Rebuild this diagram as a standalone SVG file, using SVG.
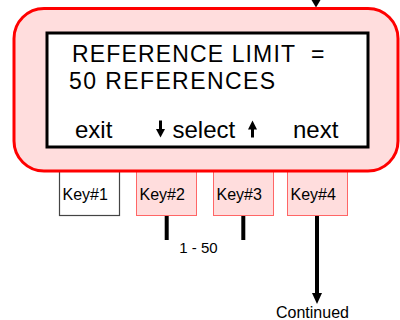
<svg xmlns="http://www.w3.org/2000/svg" width="400" height="320" viewBox="0 0 400 320">
<defs>
<style>
text{font-family:"Liberation Sans",Arial,sans-serif;fill:#000}
.key{fill:#ffdddd;stroke:#ff6666;stroke-width:1}
.lbl{font-size:16px}
.big{font-size:23px}
.soft{font-size:24px}
.line{stroke:#000;stroke-width:4;fill:none}
</style>
</defs>
<g id="connectors">
<line x1="316" y1="0" x2="316" y2="2" stroke="#000" stroke-width="2"/>
<polygon points="311.5,0 320.5,0 316,7.5" fill="#000"/>
<line class="line" x1="166.7" y1="216" x2="166.7" y2="240"/>
<line class="line" x1="243.3" y1="216" x2="243.3" y2="240"/>
<line class="line" x1="317" y1="216" x2="317" y2="294" stroke-width="3.5"/>
<polygon points="312,293 322,293 317,304" fill="#000"/>
</g>
<g id="key1"><rect x="59.5" y="168" width="60" height="47.5" fill="#fff" stroke="#444" stroke-width="1.2"/><text class="lbl" x="62.5" y="199.5">Key#1</text></g>
<g id="key2"><rect class="key" x="136.5" y="168" width="60" height="47.5"/><text class="lbl" x="139.5" y="199.5">Key#2</text></g>
<g id="key3"><rect class="key" x="213.5" y="168" width="60" height="47.5"/><text class="lbl" x="216.5" y="199.5">Key#3</text></g>
<g id="key4"><rect class="key" x="287.5" y="168" width="60" height="47.5"/><text class="lbl" x="290.5" y="199.5">Key#4</text></g>
<g id="device">
<rect x="14" y="8.5" width="384" height="162.5" rx="30" ry="30" fill="#ffdddd" stroke="#ff0000" stroke-width="3"/>
<rect x="47" y="33" width="321" height="114" fill="#fff" stroke="#000" stroke-width="3"/>
<text class="big" x="72" y="61.5" textLength="223" lengthAdjust="spacing">REFERENCE LIMIT</text>
<text class="big" x="311" y="61.5">=</text>
<text class="big" x="69" y="88.5" textLength="206" lengthAdjust="spacing">50 REFERENCES</text>
<text class="soft" x="75" y="137.5">exit</text>
<text class="soft" x="172.5" y="137.5">select</text>
<text class="soft" x="293" y="137.5">next</text>
<line x1="160.5" y1="120.5" x2="160.5" y2="131" stroke="#000" stroke-width="3"/>
<polygon points="156,129 165,129 160.5,137.5" fill="#000"/>
<line x1="252.5" y1="128" x2="252.5" y2="137.5" stroke="#000" stroke-width="3"/>
<polygon points="248,129.5 257,129.5 252.5,120.5" fill="#000"/>
</g>
<g id="labels">
<text x="179.3" y="252.5" font-size="15">1 - 50</text>
<text x="276" y="317.5" font-size="16">Continued</text>
</g>
</svg>
